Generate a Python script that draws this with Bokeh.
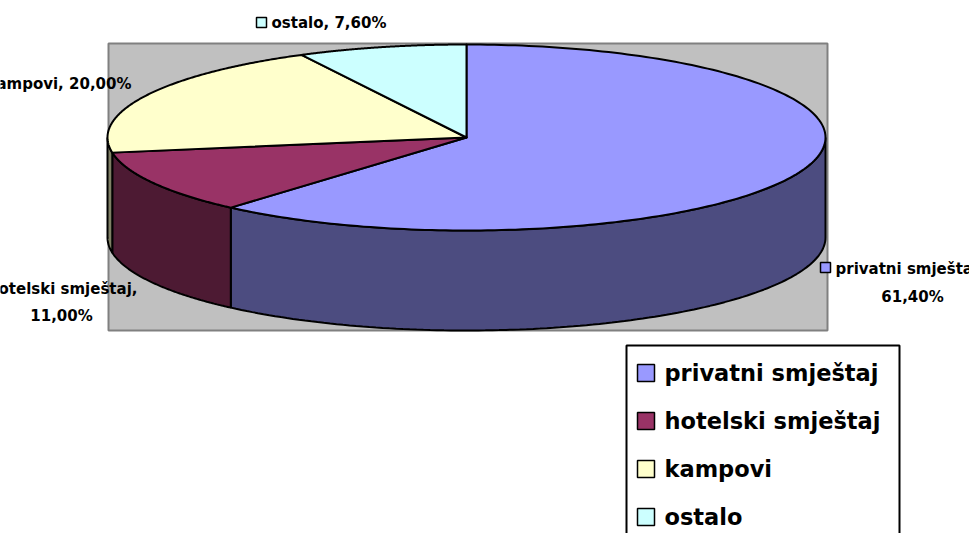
import numpy as np
from bokeh.plotting import figure
from bokeh.models import Range1d
from bokeh.core.properties import value
from bokeh.embed import file_html
from bokeh.resources import INLINE

# ---- data ----
categories = ["privatni smještaj", "hotelski smještaj", "kampovi", "ostalo"]
shares = [61.4, 11.0, 20.0, 7.6]
top_colors = ["#9999FF", "#993366", "#FFFFCC", "#CCFFFF"]
side_colors = ["#4C4C80", "#4D1A33", "#808066", "#668080"]

# ---- layout ----
W, H = 969, 533
CX, CY = 466, 137
RX, RY = 359, 93
DEPTH = 100
FONT = "DejaVu Sans"

p = figure(width=W, height=H, output_backend="svg", toolbar_location=None,
           x_range=Range1d(0, W), y_range=Range1d(H, 0), min_border=0)
p.axis.visible = False
p.grid.visible = False
p.outline_line_color = None
p.background_fill_color = "white"
p.border_fill_color = "white"

# plot area (gray)
p.quad(left=108, right=827, top=43, bottom=330, fill_color="#C0C0C0",
       line_color="#808080", line_width=2)

def ex(th):
    return CX + RX * np.cos(np.radians(th))

def ey(th, d=0):
    return CY - RY * np.sin(np.radians(th)) + d

# angles: start at 90 deg, clockwise
total = sum(shares)
starts, ends = [], []
a = 90.0
for v in shares:
    b = a - v / total * 360.0
    starts.append(a)
    ends.append(b)
    a = b

# side walls (front half: angles in [-180, 0])
sx, sy, sc = [], [], []
for s, e, c in zip(starts, ends, side_colors):
    lo, hi = max(e, -180.0), min(s, 0.0)
    if hi <= lo:
        continue
    th = np.linspace(hi, lo, 120)
    xs = list(ex(th)) + list(ex(th[::-1]))
    ys = list(ey(th)) + list(ey(th[::-1], DEPTH))
    sx.append(xs); sy.append(ys); sc.append(c)
p.patches(sx, sy, fill_color=sc, line_color="black", line_width=2)

# top wedges
tx, ty = [], []
for s, e in zip(starts, ends):
    th = np.linspace(s, e, 200)
    tx.append([CX] + list(ex(th)))
    ty.append([CY] + list(ey(th)))
p.patches(tx, ty, fill_color=top_colors, line_color="black", line_width=2,
          line_join="round")

def fmt(v):
    return f"{v:.2f}".replace(".", ",") + "%"

lbl_font = value(FONT)
fs = "15px"

def txt(x, y, t, align="left", size=fs):
    p.text(x=[x], y=[y], text=[t], text_font=lbl_font, text_font_size=size,
           text_font_style="bold", text_align=align, text_baseline="middle",
           text_color="black")

def swatch(x, y, size, color):
    p.quad(left=[x], right=[x + size], top=[y], bottom=[y + size],
           fill_color=color, line_color="black", line_width=1.5)

# data labels
swatch(256, 17, 10, top_colors[3])
txt(271, 22, f"{categories[3]}, {fmt(shares[3])}")
txt(131, 83, f"{categories[2]}, {fmt(shares[2])}", "right")
txt(137, 288, f"{categories[1]},", "right")
txt(61, 315, fmt(shares[1]), "center")
swatch(820, 262, 10, top_colors[0])
txt(835, 268, f"{categories[0]},")
txt(912, 296, fmt(shares[0]), "center")

# legend
p.quad(left=626, right=899, top=345, bottom=545, fill_color="white",
       line_color="black", line_width=2)
for i, (cat, col) in enumerate(zip(categories, top_colors)):
    y0 = 372 + i * 48
    swatch(637, y0 - 8, 17, col)
    txt(664, y0, cat, "left", "22.5px")

open("out.html", "w").write(file_html(p, INLINE))
